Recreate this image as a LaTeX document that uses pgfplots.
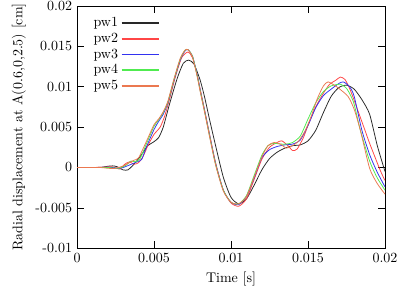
\documentclass[border=0pt]{standalone}
\usepackage{pgfplots}
\pgfplotsset{compat=1.18}
\definecolor{c1}{RGB}{40,40,40}
\definecolor{c2}{RGB}{255,70,70}
\definecolor{c3}{RGB}{50,50,240}
\definecolor{c4}{RGB}{80,235,80}
\definecolor{c5}{RGB}{235,120,80}
\begin{document}
\begin{tikzpicture}
\begin{axis}[
  scale only axis, width=220pt, height=173pt,
  xmin=0, xmax=0.02, ymin=-0.01, ymax=0.02,
  xtick={0,0.005,0.01,0.015,0.02},
  xticklabels={0,0.005,0.01,0.015,0.02},
  ytick={-0.01,-0.005,0,0.005,0.01,0.015,0.02},
  yticklabels={-0.01,-0.005,0,0.005,0.01,0.015,0.02},
  scaled ticks=false,
  tick align=inside, major tick length=5pt,
  tick style={black, line width=0.5pt},
  axis line style={line width=0.6pt},
  xlabel={Time [s]},
  ylabel={Radial displacement at A(0.6,0,2.5) [cm]},
  legend plot pos=right,
  legend cell align=right,
  legend style={at={(0.03,0.977)}, anchor=north west, draw=none, fill=none,
    row sep=-1pt},
  legend image code/.code={\draw[#1, sharp plot, line width=1pt] (0pt,0pt) -- (27pt,0pt);},
  every axis plot/.append style={line width=0.55pt, smooth, tension=0.4},
]
\addplot[c1] coordinates {(0,0) (0.001,0) (0.0016,0.00003) (0.002,0.00015) (0.0023,0.0002) (0.0026,0.0001) (0.003,-0.0003) (0.0033,-0.0003) (0.0036,0.0002) (0.004,0.0011) (0.0043,0.0019) (0.0046,0.0027) (0.005,0.0032) (0.0053,0.0037) (0.0056,0.0050) (0.006,0.0078) (0.0065,0.0110) (0.0069,0.0129) (0.00725,0.0133) (0.0076,0.0128) (0.008,0.0108) (0.0083,0.0086) (0.0086,0.0060) (0.009,0.0027) (0.0095,-0.0012) (0.01,-0.0037) (0.0105,-0.0045) (0.011,-0.0039) (0.0115,-0.0022) (0.012,-0.0003) (0.0125,0.0011) (0.013,0.0019) (0.0135,0.0024) (0.014,0.0027) (0.0145,0.0028) (0.015,0.0033) (0.0155,0.0046) (0.016,0.0068) (0.0165,0.0088) (0.017,0.0099) (0.0175,0.0102) (0.018,0.0097) (0.0185,0.0084) (0.019,0.0066) (0.0195,0.0027) (0.02,-0.0005)};
\addlegendentry{pw1}
\addplot[c2] coordinates {(0,0) (0.001,0) (0.0018,0.00005) (0.0022,0.0001) (0.0026,-0.0001) (0.0028,-0.0002) (0.0031,0.0004) (0.0034,0.0007) (0.0037,0.0004) (0.004,0.0006) (0.0043,0.0014) (0.0046,0.0027) (0.005,0.0041) (0.0054,0.0050) (0.0057,0.0064) (0.006,0.0084) (0.0064,0.0113) (0.0068,0.0136) (0.0072,0.0143) (0.0075,0.0136) (0.0078,0.0115) (0.008,0.0097) (0.0083,0.0070) (0.0086,0.0042) (0.009,0.0006) (0.0095,-0.0028) (0.01,-0.0044) (0.0105,-0.0048) (0.011,-0.0039) (0.0115,-0.0015) (0.012,0.0010) (0.0125,0.0025) (0.013,0.0031) (0.0133,0.0033) (0.0137,0.0027) (0.014,0.0021) (0.0143,0.0023) (0.0147,0.0037) (0.015,0.0052) (0.0155,0.0075) (0.016,0.0092) (0.0164,0.0103) (0.0168,0.0108) (0.0171,0.0112) (0.0174,0.0109) (0.0177,0.0098) (0.018,0.0083) (0.0187,0.0046) (0.019,0.0030) (0.0197,-0.0004) (0.02,-0.0016)};
\addlegendentry{pw2}
\addplot[c3] coordinates {(0,0) (0.0015,0) (0.002,0.00005) (0.0027,-0.0001) (0.003,0.0000) (0.0034,0.0003) (0.0039,0.0007) (0.0042,0.0010) (0.0045,0.0025) (0.005,0.0047) (0.0053,0.0057) (0.0056,0.0066) (0.0059,0.0080) (0.0063,0.0108) (0.0067,0.0133) (0.007,0.0144) (0.0072,0.0146) (0.0075,0.0138) (0.0078,0.0115) (0.008,0.0096) (0.0083,0.0069) (0.0086,0.0041) (0.009,0.0005) (0.0095,-0.0028) (0.01,-0.0043) (0.0105,-0.0046) (0.011,-0.0036) (0.0115,-0.0013) (0.012,0.0012) (0.0125,0.0022) (0.013,0.0026) (0.0135,0.0028) (0.014,0.0029) (0.0145,0.0034) (0.015,0.0052) (0.0155,0.0074) (0.016,0.0089) (0.0165,0.0097) (0.017,0.0104) (0.0173,0.0106) (0.0177,0.0100) (0.018,0.0088) (0.0185,0.0046) (0.019,0.0016) (0.0195,-0.0006) (0.02,-0.0024)};
\addlegendentry{pw3}
\addplot[c4] coordinates {(0,0) (0.0015,0) (0.002,0) (0.0027,-0.0001) (0.0032,0.0003) (0.0035,0.0008) (0.0038,0.0007) (0.0041,0.0011) (0.0045,0.0029) (0.005,0.0051) (0.0053,0.0059) (0.0056,0.0068) (0.0059,0.0081) (0.0063,0.0109) (0.0067,0.0134) (0.007,0.0145) (0.0072,0.0146) (0.0075,0.0138) (0.0078,0.0114) (0.008,0.0095) (0.0083,0.0068) (0.0086,0.0040) (0.009,0.0004) (0.0095,-0.0028) (0.01,-0.0043) (0.0105,-0.0045) (0.011,-0.0035) (0.0115,-0.0010) (0.012,0.0015) (0.0124,0.0027) (0.0128,0.0030) (0.0132,0.0029) (0.0136,0.0029) (0.014,0.0031) (0.0145,0.0039) (0.015,0.0060) (0.0155,0.0080) (0.016,0.0094) (0.0165,0.0101) (0.0171,0.0103) (0.0175,0.0098) (0.0178,0.0088) (0.018,0.0078) (0.0184,0.0046) (0.019,0.0008) (0.0195,-0.0013) (0.02,-0.0028)};
\addlegendentry{pw4}
\addplot[c5] coordinates {(0,0) (0.0015,0) (0.002,-0.0001) (0.0025,-0.0001) (0.003,0.0002) (0.0034,0.0006) (0.0037,0.0009) (0.004,0.0012) (0.0045,0.0032) (0.005,0.0053) (0.0053,0.0060) (0.0056,0.0069) (0.0059,0.0082) (0.0063,0.0110) (0.0067,0.0135) (0.007,0.0145) (0.0072,0.0146) (0.0075,0.0137) (0.0078,0.0113) (0.008,0.0094) (0.0083,0.0067) (0.0086,0.0039) (0.009,0.0003) (0.0095,-0.0029) (0.01,-0.0043) (0.0105,-0.0045) (0.011,-0.0036) (0.0115,-0.0012) (0.012,0.0013) (0.0124,0.0027) (0.0128,0.0031) (0.0132,0.0029) (0.0136,0.0024) (0.014,0.0027) (0.0144,0.0033) (0.0148,0.0045) (0.0152,0.0063) (0.0156,0.0085) (0.016,0.0101) (0.0163,0.0106) (0.0167,0.0102) (0.017,0.0098) (0.0176,0.0088) (0.018,0.0072) (0.0184,0.0046) (0.019,-0.0001) (0.0195,-0.0020) (0.02,-0.0033)};
\addlegendentry{pw5}
\end{axis}
\pgfresetboundingbox
\path ([shift={(-55pt,-35.7pt)}]current axis.south west) rectangle ([shift={(10pt,4.3pt)}]current axis.north east);
\end{tikzpicture}
\end{document}
